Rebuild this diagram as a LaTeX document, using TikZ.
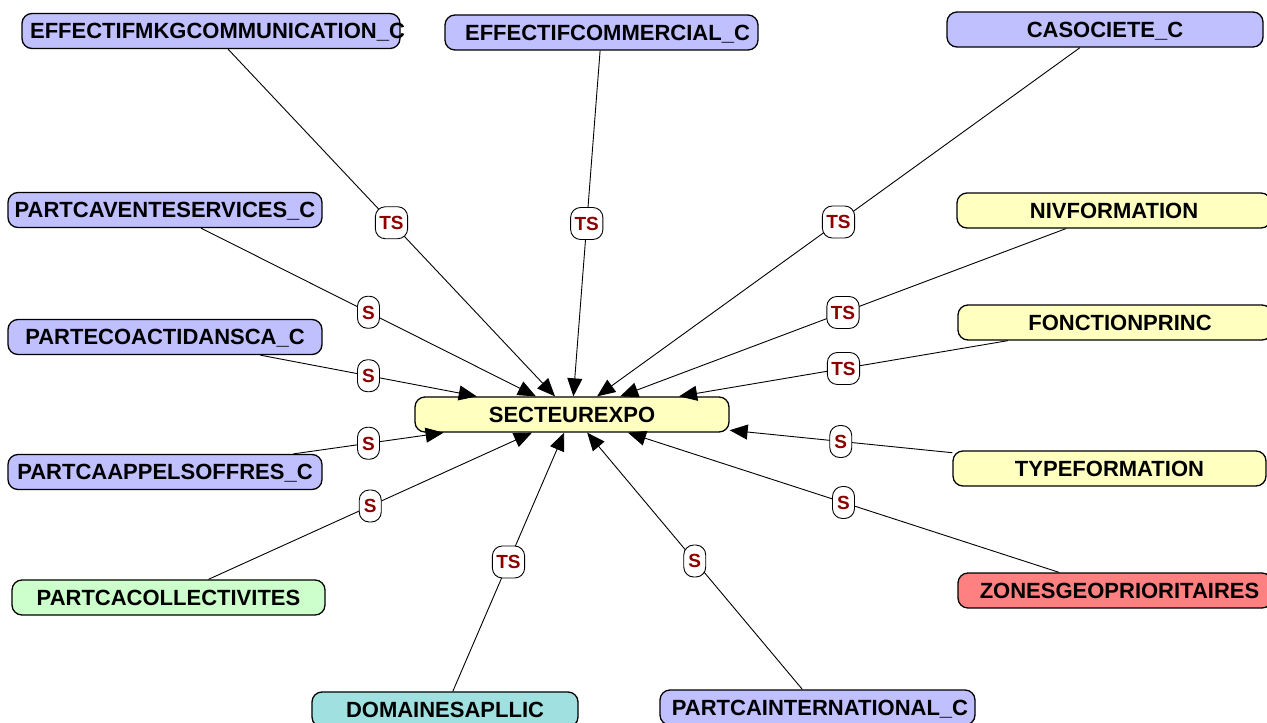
\documentclass[tikz,border=0pt]{standalone}
\usepackage{fontspec}
\setmainfont{Liberation Sans}
\usetikzlibrary{arrows.meta}

\definecolor{entblue}{RGB}{192,192,255}
\definecolor{entyellow}{RGB}{255,255,192}
\definecolor{entgreen}{RGB}{204,255,204}
\definecolor{entteal}{RGB}{160,224,224}
\definecolor{entred}{RGB}{255,128,128}
\definecolor{labred}{RGB}{140,0,0}

% text of fixed-width boxes: centred, optionally pushed right by half of #1
\newcommand\boxtext[2][0pt]{\makebox[0pt]{\hspace*{#1}#2}}

\begin{document}
\begin{tikzpicture}[x=1pt,y=-1pt,
  entity/.style={draw=black, line width=1.3pt, rounded corners=10pt, fill=#1,
    minimum height=35pt, inner sep=0pt, text height=15.8pt, text depth=0pt,
    font=\bfseries\fontsize{22}{26}\selectfont},
  lbl/.style={draw=black, line width=0.9pt, fill=white, rounded corners=10pt,
    minimum height=32pt, minimum width=22pt, inner xsep=4pt, inner ysep=0pt,
    text height=13.6pt, text depth=0pt, text=labred,
    font=\bfseries\fontsize{19}{22}\selectfont},
  conn/.style={draw=black, line width=0.9pt, -{Triangle[length=18pt,width=15pt]}}]

\clip (0,0) rectangle (1267,723);
\fill[white] (0,0) rectangle (1267,723);

% central table
\node[entity=entyellow, minimum width=314pt] (sect) at (572,414.5) {\boxtext{SECTEUREXPO}};

% surrounding tables
\node[entity=entblue, minimum width=378pt] (mkg) at (211,31) {\boxtext[13pt]{EFFECTIFMKGCOMMUNICATION\_C}};
\node[entity=entblue, minimum width=313pt] (comm) at (601.5,32.5) {\boxtext[12pt]{EFFECTIFCOMMERCIAL\_C}};
\node[entity=entblue, minimum width=316pt] (soc) at (1105,29.5) {\boxtext{CASOCIETE\_C}};
\node[entity=entblue, minimum width=314pt] (vente) at (165,210) {\boxtext{PARTCAVENTESERVICES\_C}};
\node[entity=entblue, minimum width=314pt] (eco) at (165,337) {\boxtext{PARTECOACTIDANSCA\_C}};
\node[entity=entblue, minimum width=314pt] (appels) at (165,472) {\boxtext{PARTCAAPPELSOFFRES\_C}};
\node[entity=entgreen, minimum width=313pt] (coll) at (168.5,597.5) {\boxtext{PARTCACOLLECTIVITES}};
\node[entity=entteal, minimum width=266pt] (dom) at (445,709.5) {\boxtext{DOMAINESAPLLIC}};
\node[entity=entblue, minimum width=315pt] (inter) at (817.5,707.5) {\boxtext[5pt]{PARTCAINTERNATIONAL\_C}};
\node[entity=entred, minimum width=314pt] (zones) at (1115,590.5) {\boxtext[9pt]{ZONESGEOPRIORITAIRES}};
\node[entity=entyellow, minimum width=313pt] (typef) at (1109.5,468.5) {\boxtext{TYPEFORMATION}};
\node[entity=entyellow, minimum width=314pt] (fonc) at (1115,322.5) {\boxtext[10pt]{FONCTIONPRINC}};
\node[entity=entyellow, minimum width=314pt] (niv) at (1114,210.5) {\boxtext{NIVFORMATION}};

% connectors
\foreach \src in {mkg,comm,soc,vente,eco,appels,coll,dom,inter,zones,typef,fonc,niv}
  \draw[conn] (\src) -- (sect);

% link labels at the middle of each centre-to-centre line
\path (mkg.center) -- node[lbl] (lmkg) {TS} (sect.center);
\path (comm.center) -- node[lbl] (lcomm) {TS} (sect.center);
\path (soc.center) -- node[lbl] (lsoc) {TS} (sect.center);
\path (vente.center) -- node[lbl] (lvente) {S} (sect.center);
\path (eco.center) -- node[lbl] (leco) {S} (sect.center);
\path (appels.center) -- node[lbl] (lappels) {S} (sect.center);
\path (coll.center) -- node[lbl] (lcoll) {S} (sect.center);
\path (dom.center) -- node[lbl] (ldom) {TS} (sect.center);
\path (inter.center) -- node[lbl] (linter) {S} (sect.center);
\path (zones.center) -- node[lbl] (lzones) {S} (sect.center);
\path (typef.center) -- node[lbl] (ltypef) {S} (sect.center);
\path (fonc.center) -- node[lbl] (lfonc) {TS} (sect.center);
\path (niv.center) -- node[lbl] (lniv) {TS} (sect.center);
\end{tikzpicture}
\end{document}
